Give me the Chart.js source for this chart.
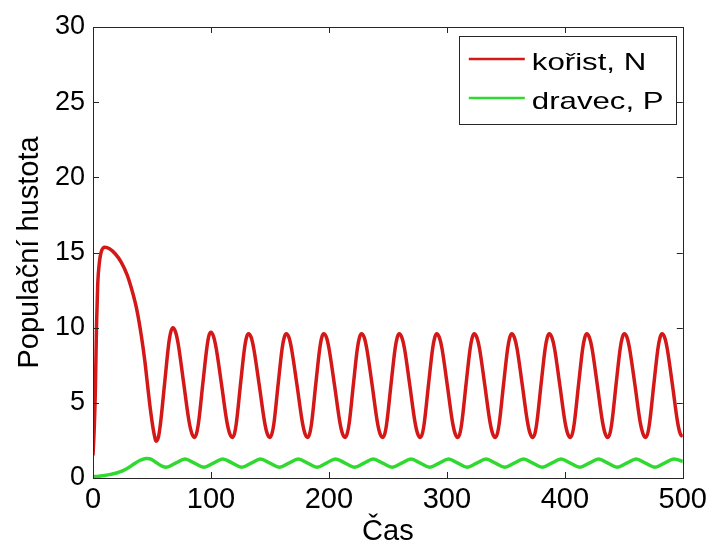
<!DOCTYPE html>
<html>
<head>
<meta charset="utf-8">
<script src="https://cdn.jsdelivr.net/npm/chart.js@4/dist/chart.umd.min.js"></script>
<style>
  html, body { margin: 0; padding: 0; background: #fff; }
  #wrap { width: 712px; height: 545px; }
</style>
</head>
<body>
<div id="wrap"><canvas id="chart" width="712" height="545"></canvas></div>
<script>
'use strict';

// Prey (kořist, N) — times and values
const tPrey = [
  0, 1, 2, 3, 4, 5.5, 7, 10, 14, 19, 24, 29, 33, 37, 41, 44, 46.5, 49, 51.5, 53.6,
  55.4, 57.1, 60.6, 64.1, 65.9, 67.7,   69.95, 72.2, 76.8, 81.4, 83.7, 86,
  87.75, 89.5, 93, 96.5, 98.2, 100,     102.25, 104.5, 109, 113.6, 115.9, 118.2,
  119.95, 121.6, 125, 128.4, 130.1, 131.8,  134.1, 136.3, 140.9, 145.5, 147.7, 150,
  151.7, 153.5, 156.9, 160.3, 162.1, 163.8,  166.1, 168.3, 172.9, 177.5, 179.7, 182,
  183.7, 185.4, 188.8, 192.2, 193.9, 195.6,  197.9, 200.1, 204.7, 209.3, 211.5, 213.8,
  215.5, 217.3, 220.7, 224.1, 225.9, 227.6,  229.9, 232.1, 236.6, 241.1, 243.3, 245.6,
  247.4, 249.1, 252.6, 256.1, 257.9, 259.6,  261.8, 264.1, 268.5, 273, 275.2, 277.4,
  279.2, 280.9, 284.4, 287.9, 289.7, 291.4,  293.6, 295.9, 300.3, 304.8, 307, 309.2,
  311, 312.7, 316.2, 319.7, 321.5, 323.2,    325.4, 327.7, 332.1, 336.6, 338.8, 341,
  342.8, 344.5, 348, 351.5, 353.3, 355,      357.2, 359.5, 363.9, 368.4, 370.6, 372.8,
  374.6, 376.3, 379.8, 383.3, 385.1, 386.8,  389, 391.3, 395.7, 400.2, 402.4, 404.6,
  406.4, 408.1, 411.6, 415.1, 416.9, 418.6,  420.8, 423.1, 427.5, 432, 434.2, 436.4,
  438.2, 439.9, 443.4, 446.9, 448.7, 450.4,  452.7, 454.9, 459.4, 463.9, 466.2, 468.4,
  470.2, 471.9, 475.4, 478.9, 480.7, 482.4,  484.6, 486.8, 491.2, 495.6, 497.8, 500
];
const nPrey = [
  1.5, 3.2, 5.8, 10.2, 12.9, 14.4, 15.05, 15.35, 15.25, 14.9, 14.35, 13.5, 12.5, 11.25, 9.45, 7.75, 6.0, 4.35, 3.05, 2.45,
  2.7, 3.55, 6.2, 8.87, 9.7, 10.0,      9.72, 8.93, 6.35, 3.77, 2.98, 2.7,
  2.95, 3.7, 6.2, 8.65, 9.45, 9.7,      9.4, 8.6, 6.2, 3.7, 2.95, 2.7,
  2.95, 3.7, 6.2, 8.6, 9.35, 9.6,       9.35, 8.6, 6.2, 3.7, 2.95, 2.7,
  2.95, 3.7, 6.2, 8.6, 9.35, 9.6,       9.35, 8.6, 6.2, 3.7, 2.95, 2.7,
  2.95, 3.7, 6.2, 8.6, 9.35, 9.6,       9.35, 8.6, 6.2, 3.7, 2.95, 2.7,
  2.95, 3.7, 6.2, 8.6, 9.35, 9.6,       9.35, 8.6, 6.2, 3.7, 2.95, 2.7,
  2.95, 3.7, 6.2, 8.6, 9.35, 9.6,       9.35, 8.6, 6.2, 3.7, 2.95, 2.7,
  2.95, 3.7, 6.2, 8.6, 9.35, 9.6,       9.35, 8.6, 6.2, 3.7, 2.95, 2.7,
  2.95, 3.7, 6.2, 8.6, 9.35, 9.6,       9.35, 8.6, 6.2, 3.7, 2.95, 2.7,
  2.95, 3.7, 6.2, 8.6, 9.35, 9.6,       9.35, 8.6, 6.2, 3.7, 2.95, 2.7,
  2.95, 3.7, 6.2, 8.6, 9.35, 9.6,       9.35, 8.6, 6.2, 3.7, 2.95, 2.7,
  2.95, 3.7, 6.2, 8.6, 9.35, 9.6,       9.35, 8.6, 6.2, 3.7, 2.95, 2.7,
  2.95, 3.7, 6.2, 8.6, 9.35, 9.6,       9.35, 8.6, 6.2, 3.7, 2.95, 2.7,
  2.95, 3.7, 6.2, 8.6, 9.35, 9.6,       9.35, 8.6, 6.2, 3.7, 2.95, 2.75
];

// Predator (dravec, P)
const tPred = [
  0, 5, 10, 15, 20, 25, 30, 35, 40, 45, 48, 52, 56, 59, 62,
  70, 78, 86, 94, 102, 110, 118.1, 126.2, 134.1, 142, 150, 158,
  166, 174, 182, 190, 197.8, 205.6, 213.7, 221.8, 229.7, 237.6, 245.6, 253.6,
  261.6, 269.6, 277.5, 285.4, 293.4, 301.4, 309.3, 317.2, 325.2, 333.2, 341.1, 349,
  357, 365, 372.9, 380.8, 388.8, 396.8, 404.7, 412.6, 420.6, 428.6, 436.5, 444.4,
  452.4, 460.4, 468.4, 476.4, 484.4, 492.4, 500
];
const pPred = [
  0.08, 0.12, 0.17, 0.24, 0.33, 0.47, 0.68, 0.95, 1.18, 1.3, 1.28, 1.12, 0.9, 0.77, 0.72,
  0.99, 1.27, 0.99, 0.72, 0.99, 1.27, 0.99, 0.72, 0.99, 1.27, 0.99, 0.72,
  0.99, 1.27, 0.99, 0.72, 0.99, 1.27, 0.99, 0.72, 0.99, 1.27, 0.99, 0.72,
  0.99, 1.27, 0.99, 0.72, 0.99, 1.27, 0.99, 0.72, 0.99, 1.27, 0.99, 0.72,
  0.99, 1.27, 0.99, 0.72, 0.99, 1.27, 0.99, 0.72, 0.99, 1.27, 0.99, 0.72,
  0.99, 1.27, 0.99, 0.72, 0.99, 1.27, 1.1
];

const xTicks = [0, 100, 200, 300, 400, 500];
const yTicks = [0, 5, 10, 15, 20, 25, 30];

const FONT  = "'Liberation Sans', Arial, sans-serif";
const RED   = '#d41818';
const GREEN = '#2fd92f';

const toPoints = (xs, ys) => xs.map((x, i) => ({ x, y: ys[i] }));

/* ── MATLAB-style box with inward ticks ───────────────────────── */
const boxPlugin = {
  id: 'box',
  afterDatasetsDraw(chart) {
    const { ctx, chartArea: a, scales } = chart;
    const len = 6;
    ctx.save();
    ctx.strokeStyle = '#262626';
    ctx.lineWidth = 1;
    ctx.beginPath();
    xTicks.forEach(v => {
      const px = Math.round(scales.x.getPixelForValue(v)) + 0.5;
      ctx.moveTo(px, a.bottom); ctx.lineTo(px, a.bottom - len);
      ctx.moveTo(px, a.top);    ctx.lineTo(px, a.top + len);
    });
    yTicks.forEach(v => {
      const py = Math.round(scales.y.getPixelForValue(v)) + 0.5;
      ctx.moveTo(a.left, py);  ctx.lineTo(a.left + len, py);
      ctx.moveTo(a.right, py); ctx.lineTo(a.right - len, py);
    });
    ctx.stroke();
    ctx.strokeRect(Math.round(a.left) + 0.5, Math.round(a.top) + 0.5,
                   Math.round(a.right - a.left), Math.round(a.bottom - a.top));
    ctx.restore();
  },
};

/* ── Legend box in the upper right (text drawn a bit wide, like the source) ── */
const legendPlugin = {
  id: 'boxLegend',
  afterDraw(chart) {
    const { ctx, chartArea: a } = chart;
    const w = 217, h = 88;
    const x0 = a.right - 7 - w, y0 = a.top + 9;
    ctx.save();
    ctx.fillStyle = '#fff';
    ctx.fillRect(x0, y0, w, h);
    ctx.strokeStyle = '#262626';
    ctx.lineWidth = 1;
    ctx.strokeRect(Math.round(x0) + 0.5, Math.round(y0) + 0.5, w, h);
    ctx.font = `24px ${FONT}`;
    ctx.textBaseline = 'alphabetic';
    chart.data.datasets.forEach((ds, i) => {
      const cy = y0 + 23 + i * 39;
      ctx.strokeStyle = ds.borderColor;
      ctx.lineWidth = 2.5;
      ctx.beginPath();
      ctx.moveTo(x0 + 10, cy); ctx.lineTo(x0 + 66, cy);
      ctx.stroke();
      ctx.save();
      ctx.translate(x0 + 73, cy + 11);
      ctx.scale(1.3, 1);
      ctx.fillStyle = '#000';
      ctx.fillText(ds.label, 0, 0);
      ctx.restore();
    });
    ctx.restore();
  },
};

new Chart(document.getElementById('chart'), {
  type: 'line',
  data: {
    datasets: [
      {
        label: 'kořist, N',
        data: toPoints(tPrey, nPrey),
        borderColor: RED,
        borderWidth: 3.5,
        pointRadius: 0,
        cubicInterpolationMode: 'monotone',
      },
      {
        label: 'dravec, P',
        data: toPoints(tPred, pPred),
        borderColor: GREEN,
        borderWidth: 3.5,
        pointRadius: 0,
        cubicInterpolationMode: 'monotone',
      },
    ],
  },
  options: {
    responsive: false,
    animation: false,
    layout: { padding: { top: 27, right: 28, left: 0, bottom: 0 } },
    plugins: {
      legend: { display: false },
      tooltip: { enabled: false },
    },
    scales: {
      x: {
        type: 'linear',
        min: 0, max: 500,
        afterBuildTicks: s => { s.ticks = xTicks.map(v => ({ value: v })); },
        afterFit: s => { s.height = 67; },
        grid: { display: false, drawTicks: false },
        border: { display: false },
        ticks: { color: '#000', padding: 5, maxRotation: 0, autoSkip: false,
                 font: { family: FONT, size: 29 } },
        title: { display: true, text: 'Čas', color: '#000', padding: { top: 0, bottom: 0 },
                 font: { family: FONT, size: 29, lineHeight: 0.9 } },
      },
      y: {
        min: 0, max: 30,
        afterBuildTicks: s => { s.ticks = yTicks.map(v => ({ value: v })); },
        afterFit: s => { s.width = 93; },
        grid: { display: false, drawTicks: false },
        border: { display: false },
        ticks: { color: '#000', padding: 8, font: { family: FONT, size: 27 } },
        title: { display: true, text: 'Populační hustota', color: '#000', padding: { top: 13, bottom: 0 },
                 font: { family: FONT, size: 29 } },
      },
    },
  },
  plugins: [boxPlugin, legendPlugin],
});
</script>
</body>
</html>
